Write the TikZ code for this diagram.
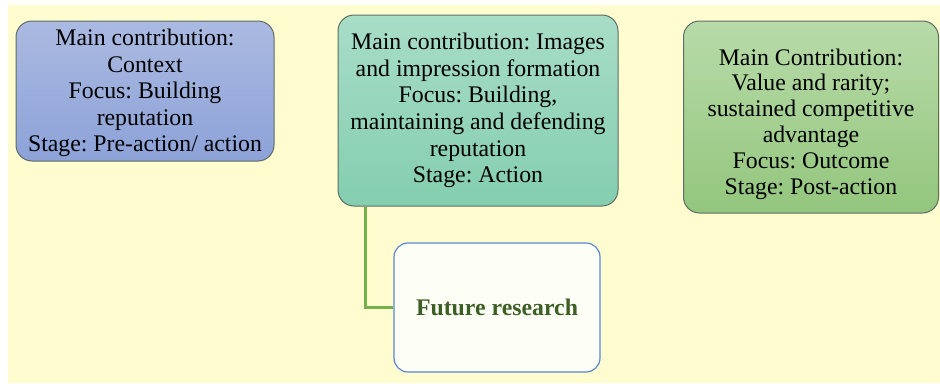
\documentclass[tikz,border=0pt]{standalone}
\usepackage{fontspec}
\setmainfont{Liberation Serif}
\frenchspacing
\definecolor{paper}{HTML}{FFFDD0}
\definecolor{blueTop}{HTML}{ABBAE1}
\definecolor{blueBot}{HTML}{8CA2D8}
\definecolor{tealTop}{HTML}{A8DDC8}
\definecolor{tealBot}{HTML}{84CEAF}
\definecolor{greenTop}{HTML}{B8DBA9}
\definecolor{greenBot}{HTML}{93C67D}
\definecolor{edgeGray}{HTML}{5E6B66}
\definecolor{futureFill}{HTML}{FDFEF6}
\definecolor{futureEdge}{HTML}{5B86D2}
\definecolor{futureText}{HTML}{3D5F25}
\definecolor{linkGreen}{HTML}{74B04B}
\tikzset{
  card/.style={draw=edgeGray, line width=1pt, rounded corners=16pt, inner sep=0pt,
    align=center, font=\fontsize{23.8}{26.6}\selectfont},
  cardtext/.style={align=center, inner sep=0pt, font=\fontsize{23.8}{25.8}\selectfont},
  future/.style={draw=futureEdge, fill=futureFill, line width=1.2pt, rounded corners=14pt,
    inner sep=0pt, text=futureText, font=\fontsize{23.8}{26.6}\selectfont\bfseries},
  link/.style={draw=linkGreen, line width=2.6pt}
}
\begin{document}
\begin{tikzpicture}[x=1pt, y=-1pt]
  \useasboundingbox (0,0) rectangle (940,383);
  % page background
  \fill[paper] (8,5) rectangle (940,383);

  % context stage
  \node[card, top color=blueTop, bottom color=blueBot,
        minimum width=258pt, minimum height=140pt] (ctx) at (145,91) {};
  \node[cardtext, font=\fontsize{23.8}{26.6}\selectfont] (ctxtext) at (145,93)
    {Main contribution:\\Context\\Focus: Building\\reputation\\Stage: Pre-action/ action};

  % image and impression stage
  \node[card, top color=tealTop, bottom color=tealBot,
        minimum width=280pt, minimum height=191pt] (img) at (478,110.5)
    {Main contribution: Images\\and impression formation\\Focus: Building,\\maintaining and defending\\reputation\\Stage: Action};

  % outcome stage
  \node[card, top color=greenTop, bottom color=greenBot,
        minimum width=255pt, minimum height=192pt] (val) at (811,117) {};
  \node[cardtext] (valtext) at (811,124)
    {Main Contribution:\\Value and rarity;\\sustained competitive\\advantage\\Focus: Outcome\\Stage: Post-action};

  % future research
  \node[future, minimum width=206pt, minimum height=129pt] (fut) at (497,307.5) {Future research};

  % connector
  \draw[link] ([xshift=28pt]img.south west) |- (fut.west);
\end{tikzpicture}
\end{document}
